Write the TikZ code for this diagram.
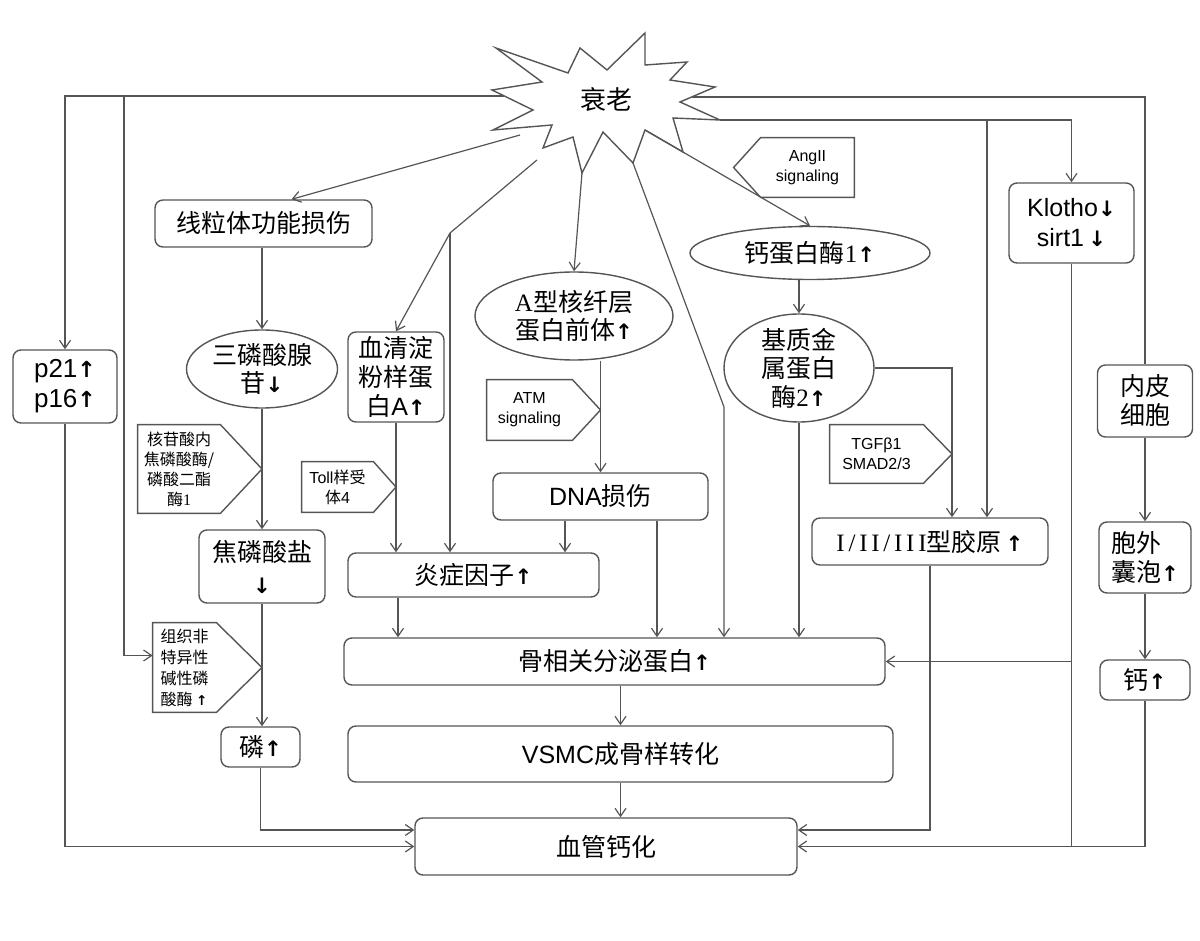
\documentclass[tikz,border=0pt]{standalone}
\usepackage{fontspec}
\setmainfont{Noto Sans CJK SC}
\newfontfamily\lat{Liberation Sans}
\newfontfamily\ser{Liberation Serif}
\newfontfamily\serw{Liberation Serif}[LetterSpace=15]
\newfontfamily\arrfont{DejaVu Sans}[Scale=0.85]
\usetikzlibrary{shapes.geometric,arrows.meta}
\definecolor{linegray}{HTML}{555555}
\newcommand{\upar}{{\arrfont\bfseries ↑}}
\newcommand{\dnar}{{\arrfont\bfseries ↓}}
\tikzset{
	box/.style={draw=linegray, line width=0.7pt, rounded corners=4pt, inner sep=0pt, align=center, font=\fontsize{12.5}{14.5}\selectfont},
	oval/.style={draw=linegray, line width=0.7pt, ellipse, inner sep=0pt, align=center, font=\fontsize{12.5}{14}\selectfont},
	sig/.style={inner sep=0pt, align=center, font=\fontsize{8}{10}\selectfont},
	sigline/.style={draw=linegray, line width=0.7pt},
	arr/.style={draw=linegray, line width=0.6pt, -{Straight Barb[length=4pt,width=5.5pt]}},
	link/.style={draw=linegray, line width=0.6pt}
}

\begin{document}
\begin{tikzpicture}[x=0.5pt,y=-0.5pt]
	\useasboundingbox (0,0) rectangle (1200,941);

	% aging star
	\draw[sigline, fill=white] (496,48) -- (568,73) -- (580,48) -- (607,70) -- (645,33) -- (645,65) -- (687,62) -- (670,80) -- (715,87) -- (680,102) -- (720,120) -- (673,118) -- (683,152) -- (645,130) -- (633,163) -- (603,132) -- (582,173) -- (573,137) -- (543,148) -- (552,125) -- (493,130) -- (533,110) -- (492,90) -- (542,82) -- cycle;
	\node[font=\fontsize{13}{13}\selectfont] (aging) at (606,100) {衰老};

	% boxes
	\node[box, minimum width=108.5pt, minimum height=23.5pt] (mito) at (263.5,223.5) {线粒体功能损伤};
	\node[box, minimum width=52pt, minimum height=36.5pt, font=\lat\fontsize{13}{15}\selectfont] (p21) at (65,386.5) {p21\upar\\p16\upar};
	\node[box, minimum width=62.5pt, minimum height=40pt, font=\lat\fontsize{12.5}{15}\selectfont] (klotho) at (1071.5,223) {Klotho\dnar\\sirt1\,\dnar};
	\node[box, minimum width=48pt, minimum height=45pt] (serum) at (396,377) {血清淀\\粉样蛋\\白{\lat A}\upar};
	\node[box, minimum width=63pt, minimum height=36.5pt, font=\fontsize{12.5}{16}\selectfont] (pyro) at (262,566.5) {焦磷酸盐\\\dnar};
	\node[box, minimum width=107.5pt, minimum height=23.5pt] (dna) at (600.5,496.5) {{\lat DNA}损伤};
	\node[box, minimum width=125.5pt, minimum height=22pt] (infl) at (473.5,575) {炎症因子\upar};
	\node[box, minimum width=118pt, minimum height=23.5pt] (coll) at (930,541.5) {{\serw I/II/III}型胶原\,\upar};
	\node[box, minimum width=47.5pt, minimum height=36pt] (endo) at (1145,401) {内皮\\细胞};
	\node[box, minimum width=46pt, minimum height=35.5pt, align=left] (ev) at (1145,557.5) {胞外\\囊泡\upar};
	\node[box, minimum width=45pt, minimum height=20pt] (ca) at (1145,680) {钙\upar};
	\node[box, minimum width=270.5pt, minimum height=23.5pt] (bone) at (614.5,661.5) {骨相关分泌蛋白\upar};
	\node[box, minimum width=272.5pt, minimum height=28pt] (vsmc) at (620.5,754) {{\lat VSMC}成骨样转化};
	\node[box, minimum width=39.5pt, minimum height=20pt] (phos) at (260.5,747) {磷\upar};
	\node[box, minimum width=191pt, minimum height=28.5pt] (calc) at (606,846.5) {血管钙化};

	% ellipses
	\node[oval, minimum width=75.5pt, minimum height=39pt] (atp) at (262,369) {三磷酸腺\\苷\dnar};
	\node[oval, minimum width=99pt, minimum height=44pt] (lamin) at (574,316) {{\ser A}型核纤层\\蛋白前体\upar};
	\node[oval, minimum width=120pt, minimum height=26.5pt] (calp) at (810,253) {钙蛋白酶{\ser 1}\upar};
	\node[oval, minimum width=75pt, minimum height=54pt, inner sep=-2pt, font=\fontsize{12.5}{14.25}\selectfont] (mmp) at (799,368) {基质金\\属蛋白\\酶{\ser 2}\upar};

	% signals
	\node[sig, minimum width=41pt, minimum height=44pt] (npp) at (179,469) {核苷酸内\\焦磷酸酶/\\磷酸二酯\\酶{\ser 1}};
	\draw[sigline] (npp.north west) -- (npp.north east) -- (npp.east -| atp.south) -- (npp.south east) -- (npp.south west) -- cycle;
	\node[sig, minimum width=35.5pt, minimum height=25pt] (toll) at (337.5,487) {{\lat Toll}样受\\体{\lat 4}};
	\draw[sigline] (toll.north west) -- (toll.north east) -- (toll.east -| serum.south) -- (toll.south east) -- (toll.south west) -- cycle;
	\node[sig, minimum width=42.5pt, minimum height=30pt, font=\lat\fontsize{8}{10}\selectfont] (atm) at (529.5,410) {ATM\\signaling};
	\draw[sigline] (atm.north west) -- (atm.north east) -- (atm.east -| dna.north) -- (atm.south east) -- (atm.south west) -- cycle;
	\node[sig, minimum width=31.5pt, minimum height=44.5pt, align=left, font=\fontsize{8}{10.5}\selectfont] (tnap) at (184.5,667.5) {组织非\\特异性\\碱性磷\\酸酶 \upar};
	\draw[sigline] (tnap.north west) -- (tnap.north east) -- (tnap.east -| pyro.south) -- (tnap.south east) -- (tnap.south west) -- cycle;
	\coordinate (laneT) at (952,0);
	\node[sig, minimum width=46.5pt, minimum height=29pt, font=\lat\fontsize{8}{10}\selectfont] (tgf) at (876.5,454) {TGFβ1\\SMAD2/3};
	\draw[sigline] (tgf.north west) -- (tgf.north east) -- (tgf.east -| laneT) -- (tgf.south east) -- (tgf.south west) -- cycle;
	\node[sig, minimum width=46.5pt, minimum height=29.5pt, font=\lat\fontsize{8}{10}\selectfont] (ang) at (807.5,167.5) {AngII\\signaling};
	\draw[sigline] (ang.north east) -- (ang.north west) -- ([xshift=-13.5pt]ang.west) -- (ang.south west) -- (ang.south east) -- cycle;

	% points on the star
	\coordinate (sL) at (504,96);
	\coordinate (jL) at (124,96);
	\coordinate (sR1) at (692,97);
	\coordinate (sR2) at (720,120);
	\coordinate (jR) at (987,120);
	\coordinate (sM) at (520,135);
	\coordinate (sS) at (537,160);
	\coordinate (jS) at (450,233);
	\coordinate (sB) at (582,173);
	\coordinate (sC) at (645,130);
	\coordinate (sD) at (633,163);
	\coordinate (kD) at (724,407);
	% lanes
	\coordinate (laneA) at (398,0);
	\coordinate (laneB) at (565,0);
	\coordinate (laneC) at (657,0);

	% from aging
	\draw[arr] (sL) -| (p21.north);
	\draw[arr] (jL) |- ([yshift=6pt]tnap.west);
	\draw[link] (sR1) -| (endo.north);
	\draw[arr] (sR2) -| (klotho.north);
	\draw[arr] (jR) -- (jR |- coll.north);
	\draw[arr] (sM) -- ([xshift=14pt]mito.north);
	\draw[link] (sS) -- (jS);
	\draw[arr] (jS) -- (serum.north);
	\draw[arr] (jS) -- (jS |- infl.north);
	\draw[arr] (sB) -- (lamin.north);
	\draw[arr] (sC) -- (calp.north);
	\draw[arr] (sD) -- (kD) -- (kD |- bone.north);

	% middle
	\draw[arr] (atp.north |- mito.south) -- (atp.north);
	\draw[arr] (atp.south) -- (pyro.north);
	\draw[arr] (pyro.south) -- (pyro.south |- phos.north);
	\draw[arr] (phos.south) |- ([yshift=8.25pt]calc.west);
	\draw[arr] (p21.south) |- (calc.west);
	\draw[arr] (serum.south) -- (serum.south |- infl.north);
	\draw[arr] (infl.south -| laneA) -- (bone.north -| laneA);
	\draw[arr] (dna.north |- lamin.south) -- (dna.north);
	\draw[arr] (dna.south -| laneB) -- (infl.north -| laneB);
	\draw[arr] (dna.south -| laneC) -- (bone.north -| laneC);
	\draw[arr] (calp.south -| mmp.north) -- (mmp.north);
	\draw[arr] (mmp.east) -| (laneT |- coll.north);
	\draw[arr] (mmp.south) -- (mmp.south |- bone.north);
	\draw[arr] (bone.south -| vsmc.north) -- (vsmc.north);
	\draw[arr] (vsmc.south) -- (vsmc.south |- calc.north);

	% right side
	\draw[arr] (endo.south) -- (ev.north);
	\draw[arr] (ev.south) -- (ca.north);
	\draw[arr] (ca.south) |- (calc.east);
	\draw[link] (klotho.south) -- (klotho.south |- calc.east);
	\draw[arr] (klotho.south |- bone.east) -- (bone.east);
	\draw[arr] (coll.south) |- ([yshift=8.25pt]calc.east);
\end{tikzpicture}
\end{document}
